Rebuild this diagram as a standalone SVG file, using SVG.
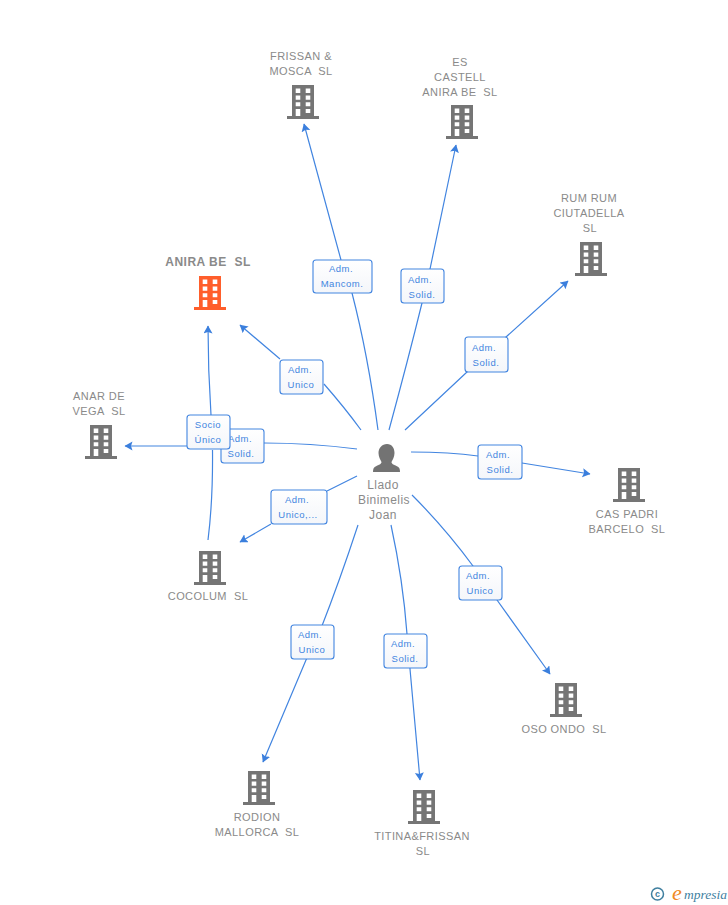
<svg xmlns="http://www.w3.org/2000/svg" width="728" height="905" viewBox="0 0 728 905">
<style>
text{font-family:"Liberation Sans",Arial,sans-serif;white-space:pre;text-anchor:middle}
.n{font-size:11px;fill:#8a8a8a;letter-spacing:.42px}
.o{font-size:12px;font-weight:bold;fill:#8a8a8a;letter-spacing:.5px}
.p{font-size:12px;fill:#8a8a8a;letter-spacing:.45px}
.l{font-size:9.5px;fill:#4285e0;letter-spacing:.5px}
.c{fill:none;stroke:#4285e0;stroke-width:1.2;marker-end:url(#a)}
.b{fill:url(#g);stroke:#4285e0;stroke-width:1.1}
</style>
<defs>
<linearGradient id="g" x1="0" y1="0" x2="0" y2="1"><stop offset="0" stop-color="#fff"/><stop offset="1" stop-color="#f4f6fa"/></linearGradient>
<marker id="a" markerWidth="9" markerHeight="10" refX="7.500" refY="4.500" orient="auto" markerUnits="userSpaceOnUse"><path d="M0 0L8 4.500L0 9L1.500 4.500Z" fill="#3b7fdd"/></marker>
<path id="k" fill-rule="evenodd" d="M-11 0H11V31H16V34H-16V31H-11ZM-7.300 3.500V8H-2.700V3.500ZM2.700 3.500V8H7.300V3.500ZM-7.300 10.500V14.700H-2.700V10.500ZM2.700 10.500V14.700H7.300V10.500ZM-7.300 17.300V21.300H-2.700V17.300ZM2.700 17.300V21.300H7.300V17.300ZM-7.300 24V31H-2.700V24ZM2.700 24V28H7.300V24Z"/>
</defs>
<rect width="728" height="905" fill="#fff"/>
<g id="connectors">
<path class="c" d="M378 430Q368 355 352 293L341 260L304 124"/>
<path class="c" d="M389 430Q408 360 422 303L430 269L456 145"/>
<path class="c" d="M405 430L467 372L506 337L568 281"/>
<path class="c" d="M411 452Q450 452 478 456L522 463L590 474"/>
<path class="c" d="M412 495Q445 528 473 566L497 600L550 674"/>
<path class="c" d="M391 525Q403 580 407 634L410 669L420 780"/>
<path class="c" d="M358 525Q340 580 320 631L306 660L263 762"/>
<path class="c" d="M357 476L327 491M271 524L240 542"/>
<path class="c" d="M361 430Q345 408 324 384M280 359L240 325"/>
<path class="c" d="M357 449Q310 443 264 443M187 446L125 446"/>
<path class="c" d="M208 540Q213 500 212.500 450M211 415Q208 370 208 326"/>
</g>
<g id="labels">
<g id="l1"><rect class="b" x="313" y="260" width="59" height="33" rx="3"/><text class="l" x="341" y="272">Adm.</text><text class="l" x="342" y="287">Mancom.</text></g>
<g id="l2"><rect class="b" x="401" y="269" width="43" height="34" rx="3"/><text class="l" x="420" y="283">Adm.</text><text class="l" x="422" y="298">Solid.</text></g>
<g id="l3"><rect class="b" x="465" y="337" width="43" height="35" rx="3"/><text class="l" x="484" y="351">Adm.</text><text class="l" x="486" y="366">Solid.</text></g>
<g id="l4"><rect class="b" x="478" y="445" width="44" height="34" rx="3"/><text class="l" x="498" y="458">Adm.</text><text class="l" x="500" y="473">Solid.</text></g>
<g id="l5"><rect class="b" x="459" y="566" width="43" height="34" rx="3"/><text class="l" x="478" y="579">Adm.</text><text class="l" x="480" y="594">Unico</text></g>
<g id="l6"><rect class="b" x="384" y="634" width="43" height="34" rx="3"/><text class="l" x="403" y="647">Adm.</text><text class="l" x="405" y="662">Solid.</text></g>
<g id="l7"><rect class="b" x="291" y="625" width="43" height="34" rx="3"/><text class="l" x="310" y="638">Adm.</text><text class="l" x="312" y="653">Unico</text></g>
<g id="l8"><rect class="b" x="271" y="490" width="56" height="34" rx="3"/><text class="l" x="297" y="503">Adm.</text><text class="l" x="298" y="518">Unico,...</text></g>
<g id="l9"><rect class="b" x="280" y="360" width="43" height="34" rx="3"/><text class="l" x="300" y="373">Adm.</text><text class="l" x="301" y="388">Unico</text></g>
<g id="l10"><rect class="b" x="221" y="429" width="43" height="34" rx="3"/><text class="l" x="240" y="442">Adm.</text><text class="l" x="241" y="457">Solid.</text></g>
<g id="l11"><rect class="b" x="187" y="415" width="43" height="34" rx="3"/><text class="l" x="208" y="428">Socio</text><text class="l" x="208" y="443">Único</text></g>
</g>
<g id="person"><path d="M387 444c5 0 7.500 4 7.500 9 0 4-2 7-3 9 0 2 3 3 5 4 3 1 3.500 3 3.500 6H373c0-3 .5-5 3.500-6 2-1 5-2 5-4-1-2-3-5-3-9 0-5 3.500-9 8.500-9Z" fill="#737373"/><text class="p" x="383" y="489">Llado</text><text class="p" x="384" y="504">Binimelis</text><text class="p" x="383" y="519">Joan</text></g>
<g id="anira"><use href="#k" x="210" y="276" fill="#ff5e2b"/><text class="o" x="208" y="266">ANIRA BE  SL</text></g>
<g id="frissan"><use href="#k" x="303" y="85" fill="#757575"/><text class="n" x="301" y="60">FRISSAN &amp;</text><text class="n" x="301" y="75">MOSCA  SL</text></g>
<g id="escastell"><use href="#k" x="462" y="105" fill="#757575"/><text class="n" x="460" y="66">ES</text><text class="n" x="460" y="81">CASTELL</text><text class="n" x="460" y="96">ANIRA BE  SL</text></g>
<g id="rumrum"><use href="#k" x="591" y="242" fill="#757575"/><text class="n" x="589" y="202">RUM RUM</text><text class="n" x="589" y="217">CIUTADELLA</text><text class="n" x="590" y="232">SL</text></g>
<g id="caspadri"><use href="#k" x="629" y="468" fill="#757575"/><text class="n" x="627" y="518">CAS PADRI</text><text class="n" x="627" y="533">BARCELO  SL</text></g>
<g id="osoondo"><use href="#k" x="566" y="683" fill="#757575"/><text class="n" x="564" y="733">OSO ONDO  SL</text></g>
<g id="titina"><use href="#k" x="424" y="790" fill="#757575"/><text class="n" x="422" y="840">TITINA&amp;FRISSAN</text><text class="n" x="423" y="855">SL</text></g>
<g id="rodion"><use href="#k" x="259" y="771" fill="#757575"/><text class="n" x="257" y="821">RODION</text><text class="n" x="257" y="836">MALLORCA  SL</text></g>
<g id="cocolum"><use href="#k" x="210" y="551" fill="#757575"/><text class="n" x="208" y="600">COCOLUM  SL</text></g>
<g id="anar"><use href="#k" x="101" y="425" fill="#757575"/><text class="n" x="99" y="400">ANAR DE</text><text class="n" x="99" y="415">VEGA  SL</text></g>
<g id="logo"><circle cx="657.500" cy="894" r="6" fill="none" stroke="#3f7f9f" stroke-width="1.500"/><text x="657.500" y="897" style="font-size:9px;fill:#3f7f9f;font-weight:bold">c</text><text x="677" y="900" style="font-size:22px;font-family:'Liberation Serif',serif;font-style:italic;fill:#f08a24">e</text><text x="684" y="899" style="font-size:13.500px;font-family:'Liberation Serif',serif;font-style:italic;fill:#3f7f9f;text-anchor:start">mpresia</text></g>
</svg>
